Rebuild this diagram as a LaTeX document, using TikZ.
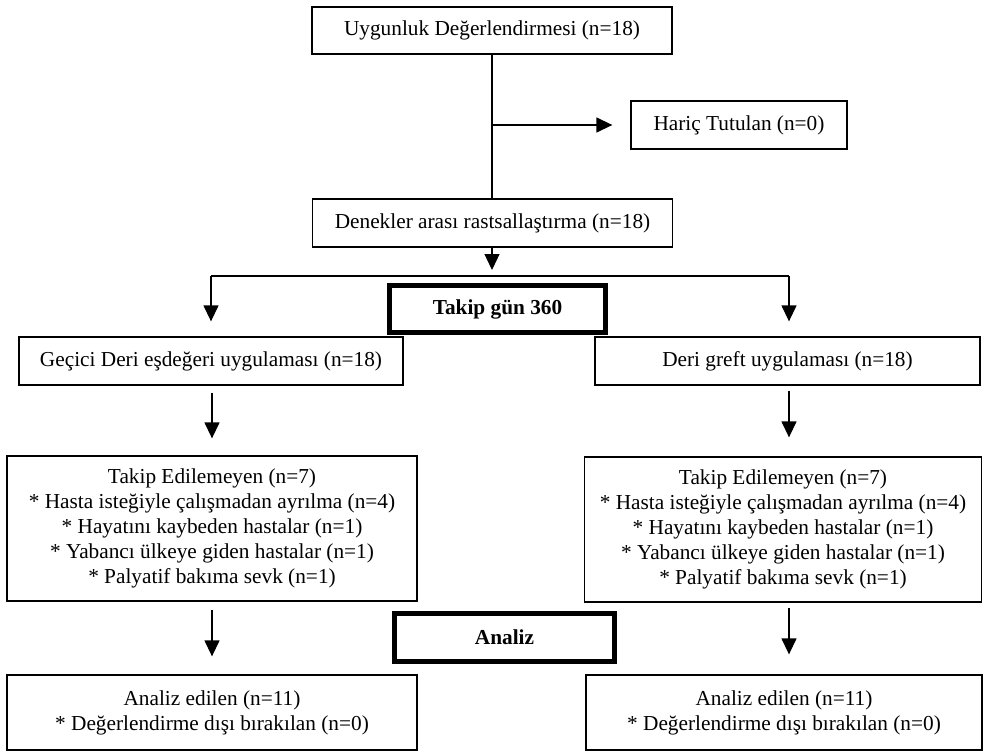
\documentclass[tikz,border=0pt]{standalone}
\usepackage{fontspec}
\setmainfont{Liberation Serif}
\usetikzlibrary{arrows.meta}
\begin{document}
\begin{tikzpicture}[x=1pt,y=-1pt,
 box/.style={draw, line width=1.3pt, inner sep=0pt, align=center, font=\fontsize{21.3}{25}\selectfont},
 thickbox/.style={box, line width=5pt, font=\fontsize{21.3}{25}\selectfont\bfseries},
 conn/.style={line width=1.3pt},
 arr/.style={conn, -{Triangle[length=16pt,width=15pt]}}]
\useasboundingbox (0,0) rectangle (983,752);
\node[box, minimum width=360pt, minimum height=47pt] (top) at (492,30.5) {Uygunluk Değerlendirmesi (n=18)};
\node[box, minimum width=216pt, minimum height=48pt] (haric) at (739,125) {Hariç Tutulan (n=0)};
\node[box, minimum width=360pt, minimum height=48pt] (rast) at (492.5,223) {Denekler arası rastsallaştırma (n=18)};
\node[thickbox, minimum width=216pt, minimum height=47pt] (takip) at (497.5,309) {Takip gün 360};
\node[box, minimum width=384pt, minimum height=48pt] (geci) at (211,361) {Geçici Deri eşdeğeri uygulaması (n=18)};
\node[box, minimum width=385pt, minimum height=48pt] (deri) at (787.5,361) {Deri greft uygulaması (n=18)};
\node[box, minimum width=410pt, minimum height=145pt] (lbig) at (212,528.5) {Takip Edilemeyen (n=7)\\* Hasta isteğiyle çalışmadan ayrılma (n=4)\\* Hayatını kaybeden hastalar (n=1)\\* Yabancı ülkeye giden hastalar (n=1)\\* Palyatif bakıma sevk (n=1)};
\node[box, minimum width=397pt, minimum height=145pt] (rbig) at (783,529.5) {Takip Edilemeyen (n=7)\\* Hasta isteğiyle çalışmadan ayrılma (n=4)\\* Hayatını kaybeden hastalar (n=1)\\* Yabancı ülkeye giden hastalar (n=1)\\* Palyatif bakıma sevk (n=1)};
\node[thickbox, minimum width=220pt, minimum height=48pt] (analiz) at (504.5,637.5) {Analiz};
\node[box, minimum width=410pt, minimum height=75pt] (lbot) at (212,712.5) {Analiz edilen (n=11)\\* Değerlendirme dışı bırakılan (n=0)};
\node[box, minimum width=396pt, minimum height=75pt] (rbot) at (784,712.5) {Analiz edilen (n=11)\\* Değerlendirme dışı bırakılan (n=0)};
\coordinate (excl) at (492,125);
\coordinate (split) at (492,276);
\coordinate (splitL) at (211,276);
\coordinate (splitR) at (789,276);
\draw[conn] (top.south) -- (top.south |- rast.north);
\draw[arr, shorten >=18pt] (excl) -- (haric.west);
\draw[arr, shorten >=6pt] (rast.south -| split) -- (split);
\draw[conn] (splitL) -- (splitR);
\draw[arr, shorten >=15pt] (splitL) -- (splitL |- geci.north);
\draw[arr, shorten >=15pt] (splitR) -- (splitR |- deri.north);
\draw[arr, shorten <=7pt, shorten >=17pt] (lbig.north |- geci.south) -- (lbig.north);
\draw[arr, shorten <=5pt, shorten >=19pt] (splitR |- deri.south) -- (splitR |- rbig.north);
\draw[arr, shorten <=8pt, shorten >=18pt] (lbig.south) -- (lbig.south |- lbot.north);
\draw[arr, shorten <=5pt, shorten >=20pt] (splitR |- rbig.south) -- (splitR |- rbot.north);
\end{tikzpicture}
\end{document}
